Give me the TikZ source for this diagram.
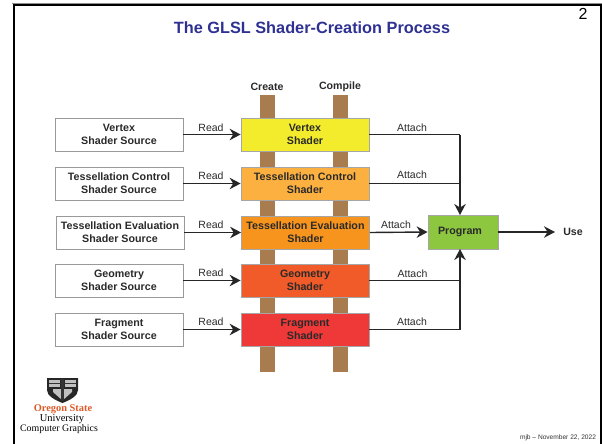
\documentclass[tikz,border=0pt]{standalone}
\usepackage{fontspec}
\setmainfont{Liberation Sans}
\newfontfamily\serifx{Liberation Serif}
\usetikzlibrary{arrows.meta}
\definecolor{post}{HTML}{A87C4F}
\definecolor{txt}{HTML}{2A2A2A}
\tikzset{
 srcbox/.style={draw=black!40,line width=0.8pt,fill=white,minimum width=128pt,minimum height=33pt,inner sep=0pt,align=center,font=\fontsize{10.7}{12.7}\selectfont\bfseries,text=txt},
 shbox/.style={srcbox,draw=black!35},
 lab/.style={font=\fontsize{10.5}{12}\selectfont,text=txt,inner sep=0pt},
 head/.style={font=\fontsize{10.6}{12}\selectfont\bfseries,text=txt,inner sep=0pt},
 conn/.style={line width=1.4pt,draw=black!85},
 arr/.style={conn,-{Stealth[length=11pt,width=11.5pt]}},
}
\begin{document}
\begin{tikzpicture}[x=1pt,y=-1pt]
\useasboundingbox (0,0) rectangle (602,444);
\fill[black!45] (12,3) rectangle (602,4.2);
\fill[black] (12.5,4.2) rectangle (602,6);
\fill[black] (12.5,4.2) rectangle (15,444);
\fill[black] (599.5,4.2) rectangle (602,444);
\node[font=\fontsize{16.3}{18}\selectfont\bfseries,text={rgb,255:red,46;green,49;blue,146},inner sep=0pt] (title) at (312,27.5) {The GLSL Shader-Creation Process};
\node[font=\fontsize{16}{18}\selectfont,inner sep=0pt] (page) at (583,14) {2};
\node[head] (create) at (267,86.5) {Create};
\node[head] (compile) at (340,86.5) {Compile};
\fill[post] (260,95) rectangle (275,372);
\fill[post] (333,95) rectangle (348,372);
\node[srcbox] (s1) at (119,134.5) {Vertex\\Shader Source};
\node[srcbox] (s2) at (119,183.5) {Tessellation Control\\Shader Source};
\node[srcbox] (s3) at (120,232.5) {Tessellation Evaluation\\Shader Source};
\node[srcbox] (s4) at (119,280.5) {Geometry\\Shader Source};
\node[srcbox] (s5) at (119,329.5) {Fragment\\Shader Source};
\node[shbox,fill={rgb,255:red,243;green,236;blue,44}] (v1) at (305,134.5) {Vertex\\Shader};
\node[shbox,fill={rgb,255:red,251;green,176;blue,64}] (v2) at (305,183.5) {Tessellation Control\\Shader};
\node[shbox,fill={rgb,255:red,247;green,148;blue,29}] (v3) at (305.5,232.5) {Tessellation Evaluation\\Shader};
\node[shbox,fill={rgb,255:red,241;green,90;blue,41}] (v4) at (305,280.5) {Geometry\\Shader};
\node[shbox,fill={rgb,255:red,239;green,56;blue,56}] (v5) at (305,329.5) {Fragment\\Shader};
\node[shbox,fill={rgb,255:red,141;green,198;blue,63},minimum width=70pt,minimum height=34pt] (prog) at (463,232) {Program\hspace*{6pt}};
\node[head] (use) at (573,232) {Use};
\coordinate (up) at (460,215);
\coordinate (dn) at (460,249);
\foreach \i in {1,...,5}{\draw[arr] (s\i.east) -- (v\i.west);}
\draw[conn] (v1.east) -- (v1.east -| up);
\draw[arr] (v1.east -| up) -- (up);
\draw[conn] (v2.east) -- (v2.east -| up);
\draw[arr] (v3.east) -- (prog.west);
\draw[conn] (v4.east) -- (v4.east -| dn);
\draw[conn] (v5.east) -- (v5.east -| dn);
\draw[arr] (v5.east -| dn) -- (dn);
\draw[arr] (prog.east) -- (555,232);
\node[lab] (r1) at (211,128) {Read};
\node[lab] (r2) at (211,175.5) {Read};
\node[lab] (r3) at (211,225) {Read};
\node[lab] (r4) at (211,273) {Read};
\node[lab] (r5) at (211,322) {Read};
\node[lab] (a1) at (412,128) {Attach};
\node[lab] (a2) at (412,174.5) {Attach};
\node[lab] (a3) at (396,224.5) {Attach};
\node[lab] (a4) at (412.5,274) {Attach};
\node[lab] (a5) at (412,322) {Attach};
% logo
\fill[black!85] (47,378) -- (78,378) -- (78,390) .. controls (78,396) and (70,400) .. (62.5,403) .. controls (55,400) and (47,396) .. (47,390) -- cycle;
\fill[black!25] (49,380) rectangle (60,387);
\fill[black!25] (65,380) rectangle (76,387);
\fill[black!25] (53,389) -- (72,389) -- (72,392) -- (63,400) -- (62,400) -- (53,392) -- cycle;
\fill[black!80] (61,379) rectangle (64,400);
\fill[black!80] (49,383) rectangle (76,384);
\node[font=\serifx\fontsize{10.4}{12}\selectfont\bfseries,text={rgb,255:red,220;green,90;blue,40},inner sep=0pt] (osu) at (63,409) {Oregon State};
\node[font=\serifx\fontsize{10.5}{12}\selectfont,inner sep=0pt] (uni) at (62,419.5) {University};
\node[font=\serifx\fontsize{9.9}{12}\selectfont,inner sep=0pt] (cg) at (59,429) {Computer Graphics};
\node[font=\fontsize{6.6}{8}\selectfont,text=black!80,inner sep=0pt] (date) at (558,438) {mjb -- November 22, 2022};
\end{tikzpicture}
\end{document}
